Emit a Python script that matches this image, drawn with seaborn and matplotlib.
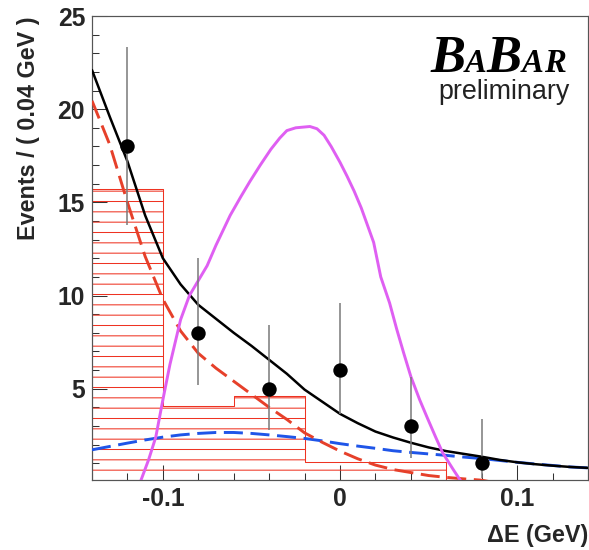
import numpy as np
import pandas as pd
import matplotlib
matplotlib.use("Agg")
import matplotlib.pyplot as plt
import seaborn as sns
from matplotlib.ticker import MultipleLocator, FixedLocator, FixedFormatter

# ---------------- data ----------------
bin_centres = [-0.12, -0.08, -0.04, 0.0, 0.04, 0.08]
events = [18, 8, 5, 6, 3, 1]
err_low_edge = [13.8, 5.2, 2.8, 3.65, 1.3, 0.2]
err_high_edge = [23.35, 12.0, 8.4, 9.6, 5.65, 3.35]

hist_edges = [-0.14, -0.10, -0.06, -0.02, 0.02, 0.06]
hist_centres = [-0.12, -0.08, -0.04, 0.0, 0.04]
hist_heights = [15.7, 4.05, 4.6, 1.06, 1.06]

curve_x = [-0.14, -0.13, -0.12, -0.11, -0.10, -0.09, -0.08, -0.07, -0.06, -0.05,
           -0.04, -0.03, -0.02, -0.01, 0.00, 0.01, 0.02, 0.03, 0.04, 0.05,
           0.06, 0.07, 0.08, 0.09, 0.10, 0.11, 0.12, 0.13, 0.14]
total_fit = [22.1, 19.6, 17.2, 14.3, 12.0, 10.6, 9.5, 8.75, 8.0, 7.3,
             6.55, 5.8, 4.95, 4.3, 3.65, 3.15, 2.7, 2.38, 2.1, 1.85,
             1.65, 1.5, 1.35, 1.18, 1.05, 0.95, 0.87, 0.8, 0.75]
combinatoric = [1.72, 1.9, 2.08, 2.25, 2.4, 2.52, 2.6, 2.65, 2.65, 2.6,
                2.52, 2.43, 2.33, 2.2, 2.05, 1.92, 1.8, 1.67, 1.58, 1.5,
                1.42, 1.33, 1.25, 1.15, 1.05, 0.96, 0.88, 0.8, 0.75]
peaking_x = [-0.14, -0.13, -0.12, -0.11, -0.10, -0.09, -0.08, -0.07, -0.06, -0.05,
             -0.04, -0.03, -0.02, -0.01, 0.00, 0.01, 0.02, 0.03, 0.04, 0.05,
             0.06, 0.07, 0.08, 0.085]
peaking_bkg = [20.45, 18.1, 15.0, 12.1, 9.8, 8.1, 6.9, 6.1, 5.4, 4.7,
               4.0, 3.35, 2.63, 2.12, 1.65, 1.24, 0.9, 0.66, 0.5, 0.34,
               0.24, 0.16, 0.09, 0.0]
signal_x = [-0.1127, -0.108, -0.104, -0.100, -0.096, -0.090, -0.085, -0.080, -0.075,
            -0.070, -0.062, -0.056, -0.051, -0.045, -0.039, -0.034, -0.030, -0.025,
            -0.017, -0.013, -0.009, -0.005, 0.000, 0.004, 0.008, 0.012, 0.019,
            0.023, 0.028, 0.032, 0.036, 0.040, 0.045, 0.049, 0.054, 0.058, 0.064, 0.0685]
signal_shape = [0.0, 1.2, 2.4, 4.4, 6.3, 8.7, 10.0, 10.8, 11.6,
                12.7, 14.3, 15.3, 16.1, 17.0, 17.85, 18.45, 18.85, 19.0,
                19.07, 18.95, 18.6, 18.0, 17.15, 16.4, 15.6, 14.7, 12.85,
                11.0, 9.6, 8.2, 6.9, 5.65, 4.4, 3.5, 2.4, 1.55, 0.65, 0.0]

x_tick_values = [-0.1, 0.0, 0.1]
x_tick_labels = ["-0.1", "0", "0.1"]
y_tick_values = [5, 10, 15, 20, 25]
y_tick_labels = ["5", "10", "15", "20", "25"]

# ---------------- styling ----------------
sns.set_style("ticks")
plt.rcParams["font.family"] = ["Liberation Sans", "DejaVu Sans"]
RED_H = "#ee3322"
RED_D = "#e6402a"
BLUE = "#1f55e8"
MAG = "#df5ff2"
plt.rcParams["hatch.color"] = RED_H
plt.rcParams["hatch.linewidth"] = 0.6

DPI = 124
fig = plt.figure(figsize=(589 / DPI, 550 / DPI), dpi=DPI)
ax = fig.add_axes([92 / 589, 1 - 480 / 550, 496 / 589, 464 / 550])

# histogram (hatched)
sns.histplot(x=hist_centres, weights=hist_heights, bins=hist_edges, element="step",
             fill=True, color=RED_H, facecolor="none", edgecolor=RED_H, hatch="--",
             linewidth=0.6, ax=ax, zorder=1)

# curves
sns.lineplot(x=curve_x, y=combinatoric, color=BLUE, linewidth=1.7,
             linestyle=(0, (6.5, 2.6)), estimator=None, ax=ax, zorder=3)
sns.lineplot(x=peaking_x, y=peaking_bkg, color=RED_D, linewidth=1.7,
             linestyle=(0, (6.5, 2.6)), estimator=None, ax=ax, zorder=3)
sns.lineplot(x=curve_x, y=total_fit, color="black", linewidth=1.45,
             estimator=None, ax=ax, zorder=4)
sns.lineplot(x=signal_x, y=signal_shape, color=MAG, linewidth=1.7,
             estimator=None, ax=ax, zorder=4)

# data points
ev = np.array(events, dtype=float)
yerr = [ev - np.array(err_low_edge), np.array(err_high_edge) - ev]
ax.errorbar(bin_centres, events, yerr=yerr, fmt="none", ecolor="#7a7a7a",
            elinewidth=0.9, capsize=0, zorder=5)
sns.scatterplot(x=bin_centres, y=events, color="black", s=70, linewidth=0,
                ax=ax, zorder=6)

# axes
ax.set_xlim(-0.14, 0.14)
ax.set_ylim(0.1, 25)
ax.xaxis.set_major_locator(FixedLocator(x_tick_values))
ax.xaxis.set_major_formatter(FixedFormatter(x_tick_labels))
ax.xaxis.set_minor_locator(MultipleLocator(0.02))
ax.yaxis.set_major_locator(FixedLocator(y_tick_values))
ax.yaxis.set_major_formatter(FixedFormatter(y_tick_labels))
ax.yaxis.set_minor_locator(MultipleLocator(1))
ax.tick_params(which="both", direction="in", top=False, right=False,
               color="#333333", width=0.6)
ax.tick_params(which="major", length=8.5)
ax.tick_params(which="minor", length=4.3)
ax.tick_params(axis="y", which="major", pad=4, labelsize=14.3)
ax.tick_params(axis="x", which="major", pad=4, labelsize=14.3)
for lab in ax.get_xticklabels() + ax.get_yticklabels():
    lab.set_fontweight("bold")
for sp in ax.spines.values():
    sp.set_visible(True)
    sp.set_color("#555555")
    sp.set_linewidth(0.7)

ax.set_ylabel("Events / ( 0.04 GeV )", fontsize=13.6, fontweight="bold", loc="top")
ax.yaxis.set_label_coords(-0.105, 1.0)
ax.set_xlabel("ΔE (GeV)", fontsize=13.6, fontweight="bold", loc="right")
ax.xaxis.set_label_coords(1.0, -0.094)

# BaBar logo
ybase = (480 - 71.7) / 464
serif = dict(family=["Liberation Serif", "DejaVu Serif"], style="italic",
             weight="bold", color="black")
t = ax.text((430 - 92) / 496, ybase, "B", fontsize=30.5, ha="left",
            va="baseline", transform=ax.transAxes, **serif)
for letter, size in [("A", 19), ("B", 30.5), ("A", 19), ("R", 19)]:
    t = ax.annotate(letter, xy=(1, ybase), xycoords=(t, ax.transAxes),
                    xytext=(0, 0), textcoords="offset points",
                    fontsize=size, ha="left", va="baseline", **serif)
ax.text((570 - 92) / 496, (480 - 99) / 464, "preliminary", fontsize=15.6,
        ha="right", va="baseline", color="#222222", transform=ax.transAxes)

fig.savefig("out.png", dpi=DPI)
